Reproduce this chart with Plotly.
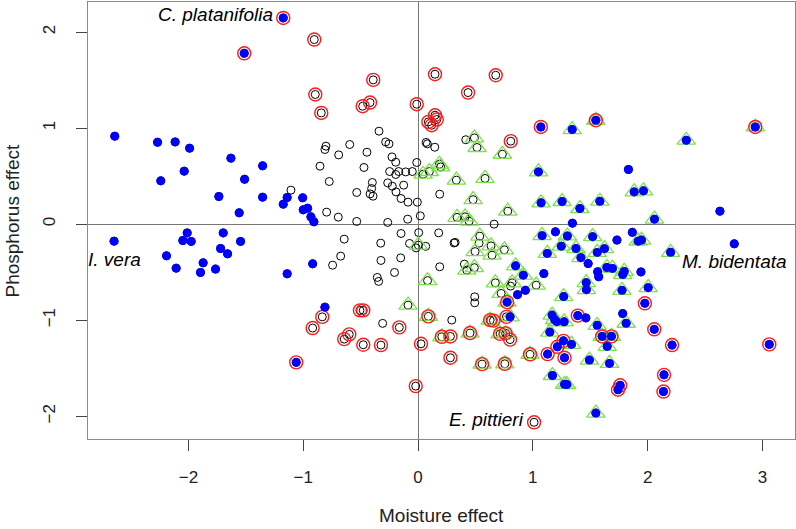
import plotly.graph_objects as go

# Species effects (moisture, phosphorus) and significance flags
# B = significant (blue dot), G = green triangle, R = red ring, K = none
# The first four rows are the labelled species.
label_names = ["C. platanifolia", "I. vera", "M. bidentata", "E. pittieri"]
label_pos = ["left", "below", "below", "left"]

moisture = [
    -1.174, -2.648, 2.755, 1.011,
    # blue, left group
    -2.642, -2.269, -2.116, -1.990, -1.630, -1.354, -2.037, -2.241, -1.511, -1.735,
    -1.354, -1.140, -1.005, -1.174, -1.558, -1.000, -0.962, -0.933, -0.907,
    -2.191, -2.107, -2.049, -2.011, -1.976, -1.872, -1.895, -1.764, -1.720,
    -1.697, -1.659, -1.546, -1.140, -0.918, -0.811,
    -1.061, -1.514,
    # red rings, upper
    -0.904, -0.390, -0.895, -0.843, -0.482, -0.418, -0.011, 0.148, 0.677, 0.436,
    0.090, 0.148, 0.163, 0.119, 0.808,
    # upper right blue
    1.070, 1.549, 2.938, 1.343, 2.337, 1.049, 1.072, 1.255, 1.410, 1.584,
    1.883, 1.964, 2.060, 1.833, 2.630, 1.345,
    # green, upper
    0.491, 0.514, 0.735, 0.186, 0.198, 0.044, 0.099, 0.334, 0.584, 0.480,
    0.782, 0.340, 0.410, 0.445,
    # black, upper near zero
    0.416, 0.070, 0.081, 0.146, -0.011, -0.050, 0.189, -0.006, 0.020, 0.663,
    # black, left cluster
    -0.340, -0.282, -0.253, -0.802, -0.811, -0.595, -0.691, -0.445, -0.227, -0.194,
    -0.854, -0.471, -0.247, -0.168, -0.107, -0.194, -0.773, -0.398, -0.404, -0.418,
    -0.392, -0.264, -0.224, -0.192, -0.125, -0.148, -0.087, -0.534, -1.107, -0.796,
    -0.695, -0.534, -0.264, -0.090,
    # black, below zero
    -0.643, -0.325, -0.148, -0.074, -0.674, -0.744, -0.323, -0.151, -0.205, -0.355,
    -0.343, -0.308, 0.006, 0.180, 0.323, 0.314, -0.017, 0.067, 0.189, 0.404,
    0.494, 0.494, 0.294, 0.532, 0.806,
    # green, below zero
    0.003, 0.724, 0.538, 0.497, 0.636, 0.645, 0.752, 0.425, 0.491, 0.083,
    0.674, 0.820, 1.029, -0.087,
    # blue, right below zero
    1.081, 1.197, 1.301, 1.521, 1.733, 1.867, 1.918, 1.947, 2.200,
    1.126, 1.248, 1.376, 1.419, 1.482, 1.561, 1.624, 0.850, 0.917, 1.096, 1.565,
    1.574, 1.645, 1.694, 1.783, 1.796, 1.942, 0.935, 0.867, 1.465, 1.467,
    1.777, 2.005, 1.269, 0.776, 1.976, 1.783, 1.813, 1.561, 1.392, 1.462,
    1.168, 1.190, 1.209, 1.273, 1.148, 1.604, 1.685, 1.648, 2.058, 2.213,
    3.060, 1.267, 1.214, 1.337, 1.129, 1.276, 1.493, 1.668, 1.171, 1.276,
    1.296, 1.761, 1.742, 2.143, 2.138, 1.549,
    # red / green-red, lower
    0.090, 0.628, 0.657, 0.770, 0.802, 0.763, 0.715, 0.802, 0.453, 0.207,
    0.282, 0.026, 0.282, 0.558, 0.756, 0.976, -0.020,
    -0.834, -0.918, -0.599, -0.643, -0.477, -0.323, -0.163, -0.506, -0.477,
]

phosphorus = [
    2.147, -0.177, -0.205, -2.063,
    # blue, left group
    0.916, 0.853, 0.856, 0.791, 0.687, 0.607, 0.552, 0.451, 0.468, 0.288,
    0.281, 0.278, 0.274, 0.208, 0.118, 0.149, 0.166, 0.076, 0.024,
    -0.330, -0.458, -0.170, -0.091, -0.180, -0.403, -0.503, -0.468, -0.253,
    -0.091, -0.309, -0.180, -0.517, -0.413, -0.864,
    -1.439, 1.779,
    # red rings, upper
    1.922, 1.502, 1.350, 1.158, 1.228, 1.266, 1.249, 1.561, 1.550, 1.370,
    1.065, 1.134, 1.089, 1.030, 0.864,
    # upper right blue
    1.012, 1.082, 1.012, 0.985, 0.874, 0.544, 0.222, 0.236, 0.163, 0.239,
    0.336, 0.347, 0.052, 0.569, 0.135, 0.010,
    # green, upper
    0.898, 0.798, 0.728, 0.624, 0.596, 0.520, 0.548, 0.458, 0.476, 0.255,
    0.135, 0.071, 0.076, 0.031,
    # black, upper near zero
    0.879, 0.851, 0.836, 0.801, 0.642, 0.548, 0.312, 0.229, 0.086, 0.000,
    # black, left cluster
    0.968, 0.856, 0.836, 0.812, 0.777, 0.829, 0.721, 0.749, 0.700, 0.645,
    0.604, 0.590, 0.548, 0.548, 0.544, 0.517, 0.444, 0.434, 0.371, 0.315,
    0.291, 0.430, 0.395, 0.336, 0.406, 0.267, 0.229, 0.330, 0.354, 0.125,
    0.073, 0.028, 0.018, 0.052,
    # black, below zero
    -0.156, -0.198, -0.097, -0.201, -0.333, -0.427, -0.378, -0.351, -0.503, -0.555,
    -0.596, -1.033, -0.088, -0.091, -0.190, -0.196, -0.247, -0.231, -0.444, -0.416,
    -0.757, -0.819, -0.999, -0.198, -0.645,
    # green, below zero
    -0.219, -0.721, -0.125, -0.286, -0.226, -0.323, -0.267, -0.479, -0.453, -0.588,
    -0.611, -0.611, -0.635, -0.843,
    # blue, right below zero
    -0.120, -0.080, -0.123, -0.130, -0.166, -0.085, -0.177, -0.166, -0.293,
    -0.305, -0.229, -0.254, -0.349, -0.411, -0.294, -0.255, -0.434, -0.531, -0.515, -0.496,
    -0.548, -0.451, -0.461, -0.525, -0.492, -0.497, -0.689, -0.734, -0.609, -0.682,
    -0.689, -0.661, -0.754, -0.812, -0.824, -0.931, -1.032, -1.053, -0.952, -0.976,
    -0.947, -0.994, -1.015, -1.017, -1.124, -1.169, -1.168, -1.273, -1.095, -1.259,
    -1.252, -1.215, -1.277, -1.252, -1.353, -1.391, -1.415, -1.450, -1.576, -1.668,
    -1.670, -1.678, -1.724, -1.569, -1.743, -1.967,
    # red / green-red, lower
    -0.960, -0.999, -1.004, -0.965, -0.965, -1.137, -1.142, -1.202, -1.134, -1.173,
    -1.169, -1.246, -1.391, -1.457, -1.454, -1.355, -1.686,
    -0.965, -1.082, -1.148, -1.197, -1.256, -1.259, -1.075, -0.898, -0.898,
]

flags = (
    ["BR", "B", "B", "R"]
    + ["B"] * 19
    + ["B"] * 15
    + ["BR", "BR"]
    + ["R"] * 15
    + ["BR", "BGR", "BGR", "BG", "BG", "BG", "BG", "BG", "BG", "BG",
       "BG", "BG", "BG", "B", "B", "B"]
    + ["G"] * 14
    + ["K"] * 10
    + ["K"] * 34
    + ["K"] * 25
    + ["G"] * 14
    + ["BG", "B", "BG", "BG", "B", "B", "BG", "BG", "BG",
       "BG", "BG", "BG", "BG", "B", "BG", "BG", "BG", "BG", "B", "B",
       "B", "BG", "BG", "BG", "BG", "B", "B", "B", "BG", "BG",
       "BG", "BG", "BG", "BGR", "BR", "B", "BG", "BG", "BR", "B",
       "BG", "BG", "BG", "BG", "BG", "BGR", "BGR", "BG", "BR", "BR",
       "BR", "BR", "BR", "BG", "BR", "BR", "BG", "BG", "BG", "BG",
       "BG", "BR", "BR", "BR", "BR", "BG"]
    + ["GR", "GR", "R", "R", "BG", "GR", "GR", "R", "GR", "GR",
       "R", "R", "R", "GR", "GR", "GR", "R"]
    + ["R"] * 9
)

FONT = "Liberation Sans, Arial, Helvetica, sans-serif"


def pick(code):
    xs = [x for x, f in zip(moisture, flags) if code in f]
    ys = [y for y, f in zip(phosphorus, flags) if code in f]
    return xs, ys


fig = go.Figure()

# base: every species as a small open black circle
fig.add_trace(go.Scatter(
    x=moisture, y=phosphorus, mode="markers", hoverinfo="skip",
    marker=dict(symbol="circle-open", size=8, color="black", line=dict(width=1)),
))
gx, gy = pick("G")
fig.add_trace(go.Scatter(
    x=gx, y=gy, mode="markers", hoverinfo="skip",
    marker=dict(symbol="triangle-up-open", size=16, color="#7EE04E",
                line=dict(width=1.3)),
))
rx, ry = pick("R")
fig.add_trace(go.Scatter(
    x=rx, y=ry, mode="markers", hoverinfo="skip",
    marker=dict(symbol="circle-open", size=13, color="#FF1A1A",
                line=dict(width=1.4)),
))
bx, by = pick("B")
fig.add_trace(go.Scatter(
    x=bx, y=by, mode="markers", hoverinfo="skip",
    marker=dict(symbol="circle", size=9, color="#0000FF", line=dict(width=0)),
))

annotations = []
for i, (name, pos) in enumerate(zip(label_names, label_pos)):
    a = dict(x=moisture[i], y=phosphorus[i], xref="x", yref="y", text=f"<i>{name}</i>",
             showarrow=False, font=dict(family=FONT, size=19, color="black"))
    if pos == "left":
        a.update(xanchor="right", yanchor="middle", xshift=-8, yshift=3)
    else:
        a.update(xanchor="center", yanchor="middle", yshift=-18)
    annotations.append(a)

annotations.append(dict(text="Moisture effect", xref="paper", yref="paper", x=0.5, y=0,
                        xanchor="center", yanchor="middle", yshift=-76, showarrow=False,
                        font=dict(family=FONT, size=19, color="#222")))
annotations.append(dict(text="Phosphorus effect", xref="paper", yref="paper", x=0, y=0.5,
                        xanchor="center", yanchor="middle", xshift=-76, textangle=-90,
                        showarrow=False, font=dict(family=FONT, size=19, color="#222")))

axis_common = dict(
    showgrid=False, zeroline=True, zerolinecolor="#777", zerolinewidth=1,
    showline=True, mirror=True, linecolor="#8a8a8a", linewidth=1,
    ticks="outside", ticklen=11, tickcolor="#444", tickwidth=1,
    tickfont=dict(family=FONT, size=17, color="#222"),
    automargin=False,
)

fig.update_layout(
    width=796, height=529,
    margin=dict(l=88, r=1, t=2, b=90),
    paper_bgcolor="white", plot_bgcolor="white",
    showlegend=False,
    xaxis=dict(range=[-2.875, 3.284], tickvals=[-2, -1, 0, 1, 2, 3],
               ticklabelstandoff=12, **axis_common),
    yaxis=dict(range=[-2.237, 2.313], tickvals=[-2, -1, 0, 1, 2], tickangle=-90,
               ticklabelstandoff=14, **axis_common),
    annotations=annotations,
)

fig.write_html(
    "out.html",
    config={"displayModeBar": False},
    post_script="document.body.style.margin='0px';document.body.style.overflow='hidden';",
)
